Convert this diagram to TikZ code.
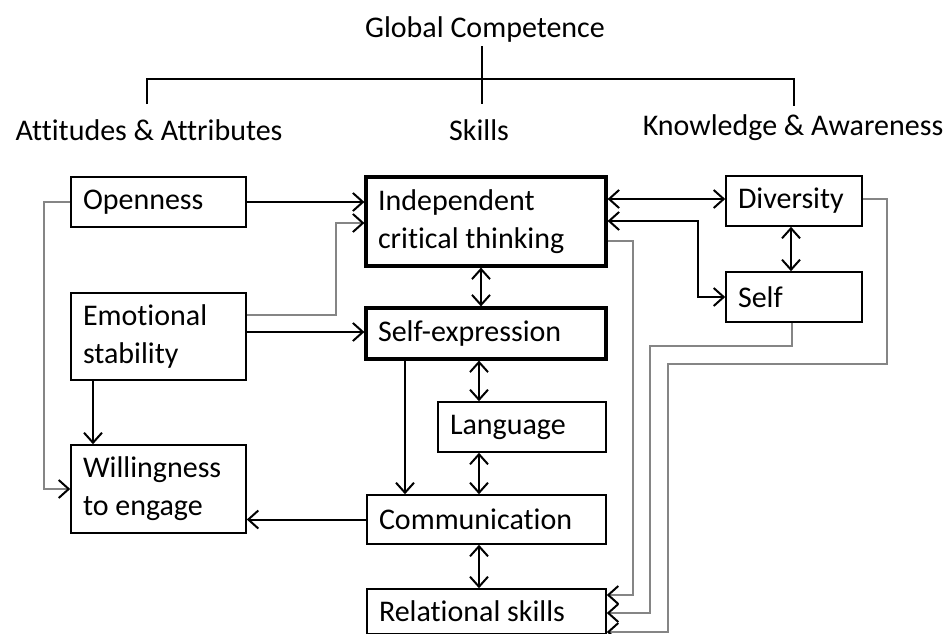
\documentclass[tikz,border=0pt]{standalone}
\usepackage{fontspec}
\setmainfont{Carlito}[Ligatures=NoCommon]
\usetikzlibrary{arrows.meta,calc}
\definecolor{linegray}{gray}{0.52}

\begin{document}
\begin{tikzpicture}[x=1pt,y=-1pt,
    font=\fontsize{30}{38}\selectfont,
    box/.style={draw,line width=1.6pt,inner xsep=12pt,inner ysep=0pt,align=left,
      execute at begin node={\spaceskip=0pt\xspaceskip=0pt}},
    keybox/.style={box,line width=3.2pt},
    arr/.style={line width=2pt,-{Straight Barb[length=10pt,width=18pt,line width=2pt,color=black]}},
    dbl/.style={line width=2pt,{Straight Barb[length=10pt,width=18pt,line width=2pt]}-{Straight Barb[length=10pt,width=18pt,line width=2pt]}},
    grayarr/.style={arr,draw=linegray}]
    \useasboundingbox (0,0) rectangle (951,634);

    % heading tree
    \node (gc) at (485,30) {Global Competence};
    \node (att) at (149,130) {Attitudes \& Attributes};
    \node (skl) at (479,130) {Skills};
    \node (kno) at (793,128) {Knowledge \& Awareness};
    \draw[line width=1.4pt] (gc.south -| 482,0) -- (482,104);
    \draw[line width=1.4pt] (147,104) -- (147,79) -- (794,79) -- (794,106);

    % attitudes
    \node[box,text width=151pt,minimum height=50pt] (open) at (158.5,202) {Openness};
    \node[box,text width=151pt,minimum height=87pt] (emo) at (158.5,336.5) {Emotional\\stability};
    \node[box,text width=151pt,minimum height=88pt] (will) at (158.5,489) {Willingness\\to engage};

    % skills
    \node[keybox,text width=216pt,minimum height=89pt] (ict) at (486,221.5) {Independent\\critical thinking};
    \node[keybox,text width=216pt,minimum height=51pt] (sexp) at (486,333.5) {Self-expression};
    \node[box,text width=144pt,minimum height=50pt] (lang) at (522,427) {Language};
    \node[box,text width=215pt,minimum height=49pt] (comm) at (486.5,519.5) {Communication};
    \node[box,text width=215pt,minimum height=45pt] (rel) at (486.5,611.5) {Relational skills};

    % knowledge
    \node[box,text width=112pt,minimum height=50pt] (div) at (794,201) {Diversity};
    \node[box,text width=112pt,minimum height=50pt] (self) at (794,297) {Self};

    % left side
    \draw[arr] (open.east) -- (open.east -| ict.west);
    \draw[grayarr] ([yshift=21.5pt]emo.east) -- ++(89,0) |- ([yshift=-1.5pt]ict.west);
    \draw[arr] ([yshift=4.5pt]emo.east) -- ([yshift=4.5pt]emo.east -| sexp.west);
    \draw[arr] ([xshift=-65.5pt]emo.south) -- ([xshift=-65.5pt]emo.south |- will.north);
    \draw[grayarr] (open.west) -- ++(-26,0) |- (will.west);
    \draw[arr] (comm.west) -- (comm.west -| will.east);

    % middle column
    \draw[dbl] ([xshift=-5pt]ict.south) -- ([xshift=-5pt]sexp.north);
    \draw[dbl] ([xshift=-7pt]sexp.south) -- ([xshift=-7pt]sexp.south |- lang.north);
    \draw[dbl] ([xshift=-43pt]lang.south) -- ([xshift=-43pt]lang.south |- comm.north);
    \draw[dbl] ([xshift=-7.5pt]comm.south) -- ([xshift=-7.5pt]rel.north);
    \draw[arr] ([xshift=-81pt]sexp.south) -- ([xshift=-81pt]sexp.south |- comm.north);

    % right side
    \draw[dbl] ([yshift=22.5pt]ict.east) -- ([yshift=22.5pt]ict.east -| div.west);
    \draw[dbl] ([yshift=0.5pt]ict.east) -- (698,221) |- (self.west);
    \draw[dbl] ([xshift=-3pt]div.south) -- ([xshift=-3pt]self.north);

    % back to relational skills
    \draw[grayarr] ([yshift=-19.5pt]ict.east) -| (633,595) -- ([yshift=16.5pt]rel.east);
    \draw[grayarr] ([xshift=-2pt]self.south) -- (792,346) -| (650,613) -- ([yshift=-1.5pt]rel.east);
    \draw[grayarr] ([yshift=2pt]div.east) -- (887,199) |- (668,364) |- ([yshift=-20.5pt]rel.east);
\end{tikzpicture}
\end{document}
